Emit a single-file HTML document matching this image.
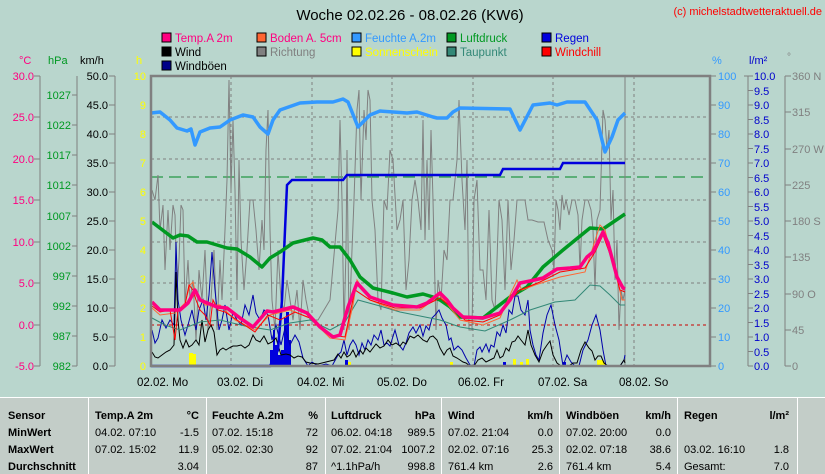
<!DOCTYPE html>
<html><head><meta charset="utf-8"><style>
body{margin:0;background:#b9d6cd;}
svg{display:block;font-family:"Liberation Sans",sans-serif;}
</style></head><body>
<svg width="825" height="474" viewBox="0 0 825 474" xmlns="http://www.w3.org/2000/svg">
<rect width="825" height="474" fill="#b9d6cd"/>
<text x="410" y="20" font-size="15" text-anchor="middle" fill="#000">Woche 02.02.26 - 08.02.26 (KW6)</text>
<text x="822" y="15" font-size="11" text-anchor="end" fill="#ff0000">(c) michelstadtwetteraktuell.de</text>
<!-- legend -->
<g font-size="11.5">
<rect x="162" y="33" width="9" height="9" fill="#ff0080" stroke="#000"/><text x="175" y="42" fill="#ff0080">Temp.A 2m</text>
<rect x="257" y="33" width="9" height="9" fill="#ff6633" stroke="#000"/><text x="270" y="42" fill="#ff0080">Boden A. 5cm</text>
<rect x="352" y="33" width="9" height="9" fill="#3399ff" stroke="#000"/><text x="365" y="42" fill="#3399ff">Feuchte A.2m</text>
<rect x="447" y="33" width="9" height="9" fill="#009922" stroke="#000"/><text x="460" y="42" fill="#009922">Luftdruck</text>
<rect x="542" y="33" width="9" height="9" fill="#0000dd" stroke="#000"/><text x="555" y="42" fill="#0000dd">Regen</text>
<rect x="162" y="47" width="9" height="9" fill="#000" stroke="#000"/><text x="175" y="56" fill="#000">Wind</text>
<rect x="257" y="47" width="9" height="9" fill="#808080" stroke="#000"/><text x="270" y="56" fill="#808080">Richtung</text>
<rect x="352" y="47" width="9" height="9" fill="#ffff00" stroke="#000"/><text x="365" y="56" fill="#ffff00">Sonnenschein</text>
<rect x="447" y="47" width="9" height="9" fill="#338877" stroke="#000"/><text x="460" y="56" fill="#338877">Taupunkt</text>
<rect x="542" y="47" width="9" height="9" fill="#ff0000" stroke="#000"/><text x="555" y="56" fill="#ff0000">Windchill</text>
<rect x="162" y="61" width="9" height="9" fill="#000088" stroke="#000"/><text x="175" y="70" fill="#000">Windböen</text>
</g>
<!-- unit headers -->
<g font-size="11">
<text x="19" y="64" fill="#ff0080">°C</text>
<text x="48" y="64" fill="#009922">hPa</text>
<text x="80" y="64" fill="#000">km/h</text>
<text x="136" y="64" fill="#ffff00">h</text>
<text x="712" y="64" fill="#3399ff">%</text>
<text x="749" y="64" fill="#0000cc">l/m²</text>
<text x="787" y="60" fill="#808080" font-size="10">°</text>
</g>
<!-- left axes -->
<g stroke="#808080" stroke-width="1" fill="none">
<line x1="40" y1="76" x2="40" y2="366"/><line x1="77" y1="76" x2="77" y2="366"/><line x1="115" y1="76" x2="115" y2="366"/>
<line x1="748" y1="76" x2="748" y2="366"/><line x1="785" y1="76" x2="785" y2="366"/>
</g>
<g font-size="11" text-anchor="end" fill="#ff0080">
<text x="34" y="80">30.0</text><text x="34" y="121">25.0</text><text x="34" y="163">20.0</text><text x="34" y="204">15.0</text><text x="34" y="246">10.0</text><text x="34" y="287">5.0</text><text x="34" y="329">0.0</text><text x="34" y="370">-5.0</text>
</g>
<g stroke="#808080"><line x1="34" y1="76" x2="40" y2="76"/><line x1="34" y1="117" x2="40" y2="117"/><line x1="34" y1="159" x2="40" y2="159"/><line x1="34" y1="200" x2="40" y2="200"/><line x1="34" y1="242" x2="40" y2="242"/><line x1="34" y1="283" x2="40" y2="283"/><line x1="34" y1="325" x2="40" y2="325"/><line x1="34" y1="366" x2="40" y2="366"/>
<line x1="72" y1="95" x2="77" y2="95"/><line x1="72" y1="125" x2="77" y2="125"/><line x1="72" y1="155" x2="77" y2="155"/><line x1="72" y1="185" x2="77" y2="185"/><line x1="72" y1="216" x2="77" y2="216"/><line x1="72" y1="246" x2="77" y2="246"/><line x1="72" y1="276" x2="77" y2="276"/><line x1="72" y1="306" x2="77" y2="306"/><line x1="72" y1="336" x2="77" y2="336"/><line x1="72" y1="366" x2="77" y2="366"/>
</g>
<g font-size="11" text-anchor="end" fill="#009922">
<text x="71" y="99">1027</text><text x="71" y="129">1022</text><text x="71" y="159">1017</text><text x="71" y="189">1012</text><text x="71" y="220">1007</text><text x="71" y="250">1002</text><text x="71" y="280">997</text><text x="71" y="310">992</text><text x="71" y="340">987</text><text x="71" y="370">982</text>
</g>
<g font-size="11" text-anchor="end" fill="#000">
<text x="108" y="80">50.0</text><text x="108" y="109">45.0</text><text x="108" y="138">40.0</text><text x="108" y="167">35.0</text><text x="108" y="196">30.0</text><text x="108" y="225">25.0</text><text x="108" y="254">20.0</text><text x="108" y="283">15.0</text><text x="108" y="312">10.0</text><text x="108" y="341">5.0</text><text x="108" y="370">0.0</text>
</g>
<g stroke="#808080"><line x1="109" y1="76" x2="115" y2="76"/><line x1="109" y1="105" x2="115" y2="105"/><line x1="109" y1="134" x2="115" y2="134"/><line x1="109" y1="163" x2="115" y2="163"/><line x1="109" y1="192" x2="115" y2="192"/><line x1="109" y1="221" x2="115" y2="221"/><line x1="109" y1="250" x2="115" y2="250"/><line x1="109" y1="279" x2="115" y2="279"/><line x1="109" y1="308" x2="115" y2="308"/><line x1="109" y1="337" x2="115" y2="337"/><line x1="109" y1="366" x2="115" y2="366"/></g>
<g font-size="11" text-anchor="end" fill="#ffff00">
<text x="146" y="80">10</text><text x="146" y="109">9</text><text x="146" y="138">8</text><text x="146" y="167">7</text><text x="146" y="196">6</text><text x="146" y="225">5</text><text x="146" y="254">4</text><text x="146" y="283">3</text><text x="146" y="312">2</text><text x="146" y="341">1</text><text x="146" y="370">0</text>
</g>
<!-- right axes -->
<g font-size="11" fill="#3399ff">
<text x="718" y="80">100</text><text x="718" y="109">90</text><text x="718" y="138">80</text><text x="718" y="167">70</text><text x="718" y="196">60</text><text x="718" y="225">50</text><text x="718" y="254">40</text><text x="718" y="283">30</text><text x="718" y="312">20</text><text x="718" y="341">10</text><text x="718" y="370">0</text>
</g>
<g stroke="#808080"><line x1="710" y1="76" x2="716" y2="76"/><line x1="710" y1="105" x2="716" y2="105"/><line x1="710" y1="134" x2="716" y2="134"/><line x1="710" y1="163" x2="716" y2="163"/><line x1="710" y1="192" x2="716" y2="192"/><line x1="710" y1="221" x2="716" y2="221"/><line x1="710" y1="250" x2="716" y2="250"/><line x1="710" y1="279" x2="716" y2="279"/><line x1="710" y1="308" x2="716" y2="308"/><line x1="710" y1="337" x2="716" y2="337"/><line x1="710" y1="366" x2="716" y2="366"/>
<line x1="744" y1="76" x2="753" y2="76"/><line x1="748" y1="90.5" x2="753" y2="90.5"/><line x1="748" y1="105" x2="753" y2="105"/><line x1="748" y1="119.5" x2="753" y2="119.5"/><line x1="748" y1="134" x2="753" y2="134"/><line x1="748" y1="148.5" x2="753" y2="148.5"/><line x1="748" y1="163" x2="753" y2="163"/><line x1="748" y1="177.5" x2="753" y2="177.5"/><line x1="748" y1="192" x2="753" y2="192"/><line x1="748" y1="206.5" x2="753" y2="206.5"/><line x1="748" y1="221" x2="753" y2="221"/><line x1="748" y1="235.5" x2="753" y2="235.5"/><line x1="748" y1="250" x2="753" y2="250"/><line x1="748" y1="264.5" x2="753" y2="264.5"/><line x1="748" y1="279" x2="753" y2="279"/><line x1="748" y1="293.5" x2="753" y2="293.5"/><line x1="748" y1="308" x2="753" y2="308"/><line x1="748" y1="322.5" x2="753" y2="322.5"/><line x1="748" y1="337" x2="753" y2="337"/><line x1="748" y1="351.5" x2="753" y2="351.5"/><line x1="748" y1="366" x2="753" y2="366"/>
<line x1="785" y1="76" x2="791" y2="76"/><line x1="785" y1="112" x2="791" y2="112"/><line x1="785" y1="149" x2="791" y2="149"/><line x1="785" y1="185" x2="791" y2="185"/><line x1="785" y1="221" x2="791" y2="221"/><line x1="785" y1="257" x2="791" y2="257"/><line x1="785" y1="294" x2="791" y2="294"/><line x1="785" y1="330" x2="791" y2="330"/><line x1="785" y1="366" x2="791" y2="366"/>
</g>
<g font-size="11" fill="#0000cc">
<text x="754" y="80">10.0</text><text x="754" y="95">9.5</text><text x="754" y="109">9.0</text><text x="754" y="124">8.5</text><text x="754" y="138">8.0</text><text x="754" y="153">7.5</text><text x="754" y="167">7.0</text><text x="754" y="182">6.5</text><text x="754" y="196">6.0</text><text x="754" y="211">5.5</text><text x="754" y="225">5.0</text><text x="754" y="240">4.5</text><text x="754" y="254">4.0</text><text x="754" y="269">3.5</text><text x="754" y="283">3.0</text><text x="754" y="298">2.5</text><text x="754" y="312">2.0</text><text x="754" y="327">1.5</text><text x="754" y="341">1.0</text><text x="754" y="356">0.5</text><text x="754" y="370">0.0</text>
</g>
<g font-size="11" fill="#808080">
<text x="792" y="80">360 N</text><text x="792" y="116">315</text><text x="792" y="153">270 W</text><text x="792" y="189">225</text><text x="792" y="225">180 S</text><text x="792" y="261">135</text><text x="792" y="298">90 O</text><text x="792" y="334">45</text><text x="792" y="370">0</text>
</g>
<!-- grid -->
<g stroke="#808080" stroke-dasharray="3,3" stroke-width="1">
<line x1="151" y1="117" x2="710" y2="117"/><line x1="151" y1="159" x2="710" y2="159"/><line x1="151" y1="200" x2="710" y2="200"/><line x1="151" y1="242" x2="710" y2="242"/><line x1="151" y1="283" x2="710" y2="283"/>
<line x1="231" y1="76" x2="231" y2="366"/><line x1="312" y1="76" x2="312" y2="366"/><line x1="392" y1="76" x2="392" y2="366"/><line x1="473" y1="76" x2="473" y2="366"/><line x1="553" y1="76" x2="553" y2="366"/><line x1="634" y1="76" x2="634" y2="366"/>
</g>
<line x1="151" y1="325" x2="710" y2="325" stroke="#cc0000" stroke-dasharray="3,3"/>
<line x1="151" y1="177" x2="710" y2="177" stroke="#008822" stroke-dasharray="12,6"/>
<line x1="625" y1="76" x2="625" y2="366" stroke="#808080"/>
<!-- wind direction -->
<polyline fill="none" stroke="#808080" stroke-width="1" points="152,190 155,200 158,175 160,230 163,205 165,270 168,210 170,250 173,205 175,215 177,290 179,260 181,205 183,210 185,305 188,260 190,300 193,280 196,340 199,270 202,300 205,250 208,330 211,300 214,250 217,330 220,260 222,300 225,230 227,180 229,80 231,190 233,120 235,190 237,300 239,160 241,240 244,290 247,250 250,200 253,200 256,230 259,270 262,220 264,250 266,150 268,110 270,230 272,300 275,330 278,250 281,300 284,310 287,280 290,300 293,320 297,290 300,330 303,280 306,300 310,320 318,320 330,300 338,210 340,120 342,200 344,330 346,250 347,150 349,330 352,250 354,200 357,110 359,90 361,200 364,110 366,140 368,90 370,100 372,200 375,230 378,300 381,310 384,200 387,210 390,150 393,160 397,230 400,220 403,200 406,290 409,260 412,200 415,180 418,200 421,230 423,120 425,240 427,160 429,230 431,130 433,200 436,330 438,280 441,300 444,250 447,260 450,200 453,200 457,160 459,100 462,180 465,230 467,160 469,330 472,330 474,200 477,180 480,270 483,270 486,300 489,210 492,300 495,310 497,260 499,200 502,220 505,290 508,200 511,270 514,240 517,200 521,200 525,200 528,220 532,220 538,222 544,222 548,240 552,250 554,270 556,200 558,210 560,230 562,195 564,210 566,200 569,215 572,200 575,200 578,215 580,270 582,220 585,200 588,200 591,210 593,230 595,290 597,220 600,210 603,110 605,120 607,150 609,130 611,220 613,190 615,280 617,240 619,330 621,290 623,300 625,290"/>
<!-- rain bars -->
<g fill="#0000dd">
<rect x="270" y="350" width="3" height="16"/><rect x="273" y="330" width="2" height="36"/><rect x="275" y="345" width="3" height="21"/><rect x="278" y="355" width="3" height="11"/><rect x="281" y="350" width="3" height="16"/><rect x="284" y="318" width="2" height="48"/><rect x="286" y="312" width="3" height="54"/><rect x="289" y="340" width="2" height="26"/>
<rect x="345" y="360" width="3" height="6"/><rect x="503" y="362" width="3" height="4"/><rect x="563" y="362" width="3" height="4"/>
</g>
<!-- sun bars -->
<g fill="#ffff00">
<rect x="189" y="353" width="4" height="13"/><rect x="193" y="354" width="3" height="12"/>
<rect x="348" y="362" width="3" height="4"/><rect x="450" y="362" width="3" height="4"/><rect x="513" y="359" width="3" height="7"/><rect x="520" y="362" width="3" height="4"/><rect x="526" y="359" width="3" height="7"/><rect x="597" y="360" width="6" height="6"/><rect x="603" y="362" width="3" height="4"/>
</g>
<line x1="290" y1="365.5" x2="625" y2="365.5" stroke="#ffff00" stroke-dasharray="2,2"/>
<!-- gusts -->
<polyline fill="none" stroke="#0000aa" stroke-width="1" points="152,330 155,343 158,338 162,320 166,328 170,320 174,325 176,242 178,300 181,320 185,335 188,325 192,310 196,330 199,310 203,300 206,320 209,295 212,252 215,290 219,330 222,320 225,305 229,330 233,312 237,320 241,325 245,305 249,315 253,295 256,313 260,320 264,310 268,315 272,340 276,325 281,345 285,328 290,345 295,335 299,342 303,358 308,366 312,362 318,366 326,364 332,366 338,355 341,352 344,340 347,355 350,345 353,340 356,345 359,355 362,343 365,350 368,340 371,345 374,335 378,340 381,330 384,345 387,343 390,346 395,330 399,345 403,350 406,343 409,333 413,327 416,333 420,325 423,336 426,326 429,330 432,318 435,315 439,310 442,318 446,325 449,340 451,338 454,350 458,346 462,350 466,358 470,365 474,366 477,350 480,347 482,352 486,344 489,352 491,345 494,347 497,332 500,336 503,325 506,333 509,310 512,314 515,296 518,296 521,310 525,315 528,300 530,330 533,345 536,355 539,360 543,333 547,315 551,305 555,325 559,340 563,366 567,355 571,362 575,366 579,366 583,350 588,340 592,325 596,315 600,330 603,350 606,366 612,366 620,366 624,360 625,355"/>
<!-- wind -->
<polyline fill="none" stroke="#000" stroke-width="1" points="152,352 155,357 158,358 162,355 166,352 170,350 174,345 176,272 178,320 180,340 183,348 186,340 189,347 192,345 196,340 199,345 202,320 205,342 208,330 211,325 214,332 217,355 220,350 223,348 226,350 229,348 233,346 237,346 241,345 245,348 249,345 253,335 256,340 260,342 264,336 268,344 272,342 276,338 281,355 286,354 290,355 294,358 298,356 302,357 306,362 310,363 318,364 326,362 334,360 338,354 341,358 344,352 347,357 350,355 353,350 356,357 360,350 363,354 366,348 370,352 373,348 376,344 380,348 384,346 388,340 392,345 396,343 400,346 403,342 406,344 410,336 414,338 418,335 423,340 427,342 430,337 433,336 437,340 440,348 444,355 447,350 450,348 453,356 457,358 460,360 463,362 466,363 470,366 474,366 478,360 482,358 486,362 490,360 494,358 497,350 500,358 503,356 506,348 509,351 512,342 515,341 518,336 521,340 525,345 528,330 531,345 535,355 539,362 543,351 547,345 550,341 553,355 557,363 561,366 565,366 569,366 573,363 577,363 581,350 585,342 589,348 592,351 595,360 598,356 601,356 604,363 608,366 615,366 620,366 624,360 625,363"/>
<!-- humidity -->
<polyline fill="none" stroke="#3399ff" stroke-width="3.5" stroke-linejoin="round" points="151,113 160,112 170,120 177,128 187,131 191,129 195,145 200,132 210,128 220,127 230,120 243,115 253,117 260,127 268,134 273,120 280,110 300,103 317,102 333,102 343,99 348,102 358,127 370,115 380,111 407,113 417,112 433,117 437,118 447,118 453,112 460,108 510,109 520,130 533,105 550,103 557,105 567,102 585,102 597,120 605,152 612,137 618,120 625,113"/>
<!-- rain sum -->
<polyline fill="none" stroke="#0000dd" stroke-width="2.5" points="151,366 270,366 278,350 282,300 285,230 287,185 292,180 343,180 347,175 500,175 503,169 560,169 563,163 625,163"/>
<!-- pressure -->
<polyline fill="none" stroke="#009922" stroke-width="3.5" stroke-linejoin="round" points="152,222 173,238 180,235 188,236 197,242 207,242 227,248 237,249 250,257 262,267 270,258 280,252 293,243 313,238 322,240 330,247 340,247 350,260 360,277 373,288 393,293 407,297 423,294 433,297 440,300 450,307 460,317 483,318 497,307 510,297 527,287 543,267 563,250 590,228 603,229 625,214"/>
<!-- dewpoint -->
<polyline fill="none" stroke="#338877" stroke-width="1" points="152,318 165,325 180,330 200,322 220,320 245,326 270,330 290,323 310,320 330,330 345,322 358,300 380,306 400,312 420,316 440,320 460,327 485,331 510,320 530,310 555,302 575,300 590,285 600,286 610,295 620,305 625,305"/>
<!-- soil -->
<polyline fill="none" stroke="#ff6633" stroke-width="1" points="152,308 160,315 175,313 185,303 190,285 193,282 196,295 205,305 220,305 235,320 255,330 270,315 290,310 310,318 330,338 345,340 353,305 357,280 370,300 395,310 420,310 440,295 448,305 460,320 483,325 500,318 510,295 517,280 522,290 535,285 560,277 585,272 592,250 600,225 605,230 615,270 622,300 625,300"/>
<!-- windchill -->
<polyline fill="none" stroke="#ff0000" stroke-width="1" points="152,306 160,312 170,310 175,340 178,310 185,305 189,285 193,290 196,300 200,310 205,315 210,325 213,300 218,310 225,312 240,322 255,332 268,315 280,320 295,312 310,318 330,335 345,337 355,290 370,300 395,308 420,308 440,298 450,306 465,320 483,322 500,315 510,300 520,290 540,282 560,272 585,268 595,252 603,235 612,260 620,290 625,292"/>
<!-- temp -->
<polyline fill="none" stroke="#ff0080" stroke-width="3.5" stroke-linejoin="round" points="152,302 160,310 180,310 188,303 195,290 200,300 217,307 227,308 240,318 253,327 267,311 273,312 293,307 307,313 320,327 333,337 340,335 348,307 357,283 370,297 393,305 417,307 427,303 440,293 447,300 453,308 463,317 483,318 500,313 510,300 520,283 530,281 543,278 557,269 570,268 580,267 587,257 593,252 603,232 608,243 617,277 623,288 625,289"/>
<!-- plot border -->
<rect x="151" y="76" width="559" height="290" fill="none" stroke="#808080" stroke-width="2.5"/>
<!-- x labels -->
<g font-size="11.5" fill="#000">
<text x="137" y="386">02.02.  Mo</text><text x="217" y="386">03.02.  Di</text><text x="297" y="386">04.02.  Mi</text><text x="377" y="386">05.02.  Do</text><text x="458" y="386">06.02.  Fr</text><text x="538" y="386">07.02.  Sa</text><text x="619" y="386">08.02.  So</text>
</g>
<!-- table -->
<rect x="0" y="397" width="825" height="77" fill="#c3cdc8"/>
<line x1="0" y1="397.5" x2="825" y2="397.5" stroke="#fff"/>
<g stroke="#fff"><line x1="88.5" y1="398" x2="88.5" y2="474"/><line x1="206.5" y1="398" x2="206.5" y2="474"/><line x1="325.5" y1="398" x2="325.5" y2="474"/><line x1="441.5" y1="398" x2="441.5" y2="474"/><line x1="559.5" y1="398" x2="559.5" y2="474"/><line x1="677.5" y1="398" x2="677.5" y2="474"/><line x1="797.5" y1="398" x2="797.5" y2="474"/></g>
<g font-size="11" fill="#000">
<g font-weight="bold"><text x="8" y="419">Sensor</text><text x="8" y="436">MinWert</text><text x="8" y="453">MaxWert</text><text x="8" y="470">Durchschnitt</text>
<text x="95" y="419">Temp.A 2m</text><text x="212" y="419">Feuchte A.2m</text><text x="331" y="419">Luftdruck</text><text x="448" y="419">Wind</text><text x="566" y="419">Windböen</text><text x="684" y="419">Regen</text></g>
<g text-anchor="end" font-weight="bold"><text x="199" y="419">°C</text><text x="318" y="419">%</text><text x="435" y="419">hPa</text><text x="553" y="419">km/h</text><text x="671" y="419">km/h</text><text x="789" y="419">l/m²</text></g>
<text x="95" y="436">04.02.  07:10</text><text x="95" y="453">07.02.  15:02</text>
<text x="212" y="436">07.02.  15:18</text><text x="212" y="453">05.02.  02:30</text>
<text x="331" y="436">06.02.  04:18</text><text x="331" y="453">07.02.  21:04</text><text x="331" y="470">^1.1hPa/h</text>
<text x="448" y="436">07.02.  21:04</text><text x="448" y="453">02.02.  07:16</text><text x="448" y="470">761.4 km</text>
<text x="566" y="436">07.02.  20:00</text><text x="566" y="453">02.02.  07:18</text><text x="566" y="470">761.4 km</text>
<text x="684" y="453">03.02.  16:10</text><text x="684" y="470">Gesamt:</text>
<g text-anchor="end"><text x="199" y="436">-1.5</text><text x="199" y="453">11.9</text><text x="199" y="470">3.04</text>
<text x="318" y="436">72</text><text x="318" y="453">92</text><text x="318" y="470">87</text>
<text x="435" y="436">989.5</text><text x="435" y="453">1007.2</text><text x="435" y="470">998.8</text>
<text x="553" y="436">0.0</text><text x="553" y="453">25.3</text><text x="553" y="470">2.6</text>
<text x="671" y="436">0.0</text><text x="671" y="453">38.6</text><text x="671" y="470">5.4</text>
<text x="789" y="453">1.8</text><text x="789" y="470">7.0</text></g>
</g>
</svg>
</body></html>
